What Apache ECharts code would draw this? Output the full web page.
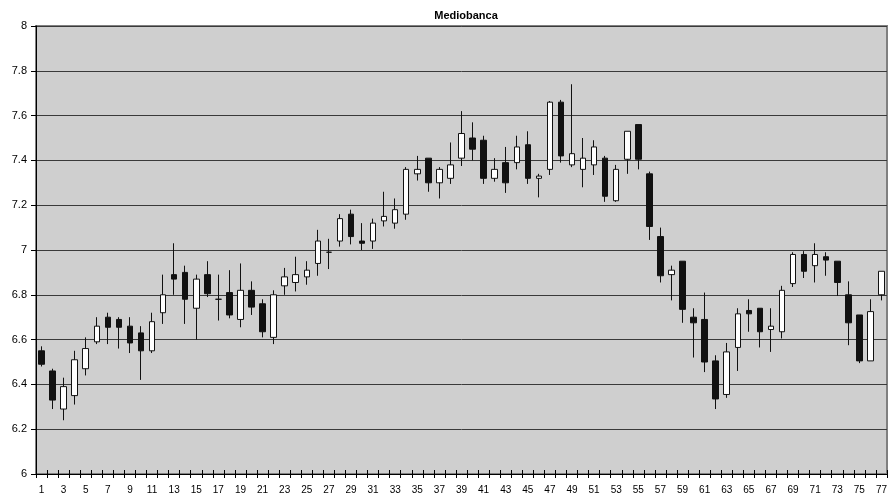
<!DOCTYPE html>
<html>
<head>
<meta charset="utf-8">
<script src="https://cdn.jsdelivr.net/npm/echarts@6/dist/echarts.min.js"></script>
<style>html,body{margin:0;padding:0;background:#fff}#c{width:894px;height:503px}</style>
</head>
<body>
<div id="c"></div>
<script>
const categories = Array.from({length: 77}, (_, i) => String(i + 1));
const opens  = [6.55,6.46,6.29,6.35,6.47,6.59,6.70,6.69,6.66,6.63,6.55,6.72,6.89,6.90,6.74,6.89,6.78,6.81,6.69,6.82,6.76,6.61,6.84,6.855,6.88,6.94,6.99,7.04,7.16,7.04,7.04,7.13,7.12,7.16,7.34,7.41,7.30,7.32,7.41,7.50,7.49,7.32,7.39,7.39,7.47,7.32,7.36,7.66,7.38,7.36,7.38,7.41,7.22,7.405,7.56,7.34,7.06,6.89,6.95,6.70,6.69,6.505,6.355,6.565,6.73,6.74,6.645,6.635,6.85,6.98,6.93,6.97,6.95,6.80,6.71,6.505,6.80];
const closes = [6.49,6.33,6.39,6.51,6.56,6.66,6.655,6.655,6.585,6.55,6.68,6.80,6.87,6.78,6.87,6.805,6.78,6.71,6.82,6.745,6.635,6.80,6.88,6.89,6.91,7.04,6.99,7.14,7.06,7.03,7.12,7.15,7.18,7.36,7.36,7.30,7.36,7.38,7.52,7.45,7.32,7.36,7.30,7.46,7.32,7.33,7.66,7.42,7.43,7.41,7.46,7.24,7.36,7.53,7.405,7.105,6.885,6.91,6.735,6.675,6.50,6.335,6.545,6.715,6.715,6.635,6.66,6.82,6.98,6.905,6.98,6.955,6.855,6.675,6.505,6.725,6.905];
const lows   = [6.48,6.29,6.24,6.31,6.44,6.58,6.58,6.56,6.54,6.42,6.54,6.67,6.80,6.67,6.60,6.79,6.685,6.695,6.655,6.71,6.61,6.58,6.80,6.815,6.845,6.885,6.915,7.015,7.025,7.00,7.005,7.105,7.095,7.135,7.31,7.26,7.23,7.295,7.375,7.40,7.295,7.305,7.255,7.36,7.295,7.235,7.335,7.39,7.37,7.28,7.335,7.215,7.215,7.34,7.36,7.045,6.855,6.775,6.675,6.52,6.455,6.29,6.34,6.46,6.635,6.565,6.545,6.605,6.835,6.875,6.855,6.885,6.795,6.575,6.495,6.505,6.775];
const highs  = [6.57,6.47,6.43,6.55,6.61,6.70,6.72,6.70,6.70,6.66,6.72,6.89,7.03,6.93,6.89,6.95,6.89,6.91,6.94,6.86,6.78,6.82,6.92,6.97,6.95,7.09,7.05,7.16,7.18,7.12,7.14,7.26,7.23,7.37,7.42,7.41,7.37,7.48,7.62,7.57,7.51,7.41,7.46,7.51,7.53,7.34,7.665,7.67,7.74,7.50,7.49,7.42,7.38,7.53,7.56,7.35,7.10,6.93,6.95,6.74,6.81,6.53,6.585,6.74,6.78,6.74,6.74,6.84,6.99,6.995,7.03,6.99,6.95,6.86,6.71,6.78,6.905];
const yTicks = { min: 6, max: 8, step: 0.2 };

const candleData = opens.map((o, i) => [o, closes[i], lows[i], highs[i]]);
const font = 'Liberation Sans, Arial, sans-serif';

const chart = echarts.init(document.getElementById('c'), null, { renderer: 'canvas' });
chart.setOption({
  animation: false,
  backgroundColor: '#ffffff',
  title: {
    text: 'Mediobanca', left: 461, top: 5, textAlign: 'center',
    textStyle: { fontFamily: font, fontSize: 11, fontWeight: 'bold', color: '#000' }
  },
  grid: {
    left: 36, right: 7, top: 26, bottom: 29, show: true,
    backgroundColor: '#cfcfcf', borderColor: '#808080', borderWidth: 2
  },
  xAxis: [{
    type: 'category', data: categories, boundaryGap: true,
    axisLine: { lineStyle: { color: '#000', width: 1 } },
    axisTick: { show: true, interval: 0, length: 4, lineStyle: { color: '#000' } },
    axisLabel: { interval: 1, fontFamily: font, fontSize: 10, color: '#000', margin: 11 },
    splitLine: { show: false }
  }, {
    type: 'category', data: categories, boundaryGap: true, position: 'bottom',
    axisLine: { show: false },
    axisTick: { show: true, inside: true, interval: 0, length: 4, lineStyle: { color: '#000' } },
    axisLabel: { show: false }, splitLine: { show: false }
  }],
  yAxis: {
    type: 'value', min: yTicks.min, max: yTicks.max, interval: yTicks.step,
    axisLine: { show: true, lineStyle: { color: '#000', width: 1 } },
    axisTick: { show: true, length: 5, lineStyle: { color: '#000' } },
    axisLabel: { fontFamily: font, fontSize: 11, color: '#000', margin: 9,
      formatter: v => String(Math.round(v * 10) / 10) },
    splitLine: { show: true, lineStyle: { color: '#3a3a3a', width: 1 } }
  },
  series: [{
    type: 'candlestick', data: candleData, xAxisIndex: 0, barWidth: 6,
    itemStyle: {
      color: '#ffffff', color0: '#111111',
      borderColor: '#111111', borderColor0: '#111111', borderColorDoji: '#111111',
      borderWidth: 1
    }
  }]
});
</script>
</body>
</html>
